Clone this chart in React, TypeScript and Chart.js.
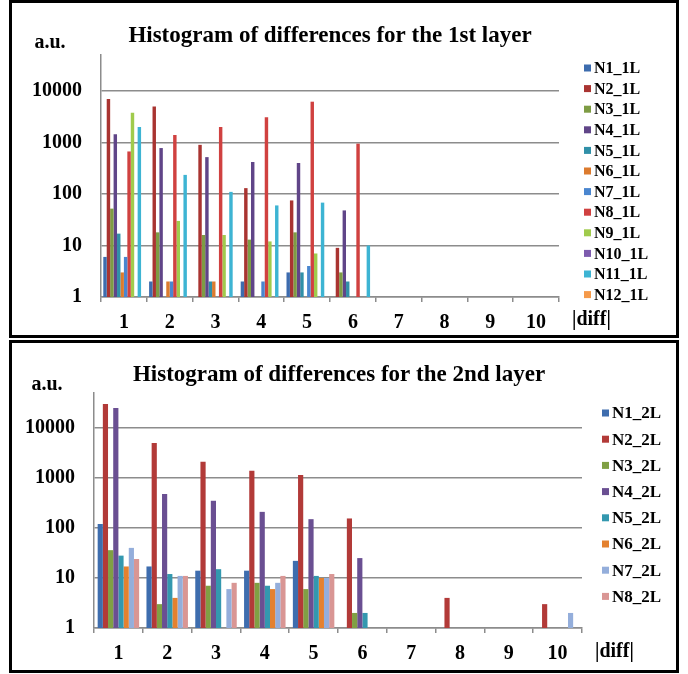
import React, { useEffect, useRef } from 'react';
import { Chart, registerables } from 'chart.js';

Chart.register(...registerables);

// ---------- data ----------
const categories = ['1', '2', '3', '4', '5', '6', '7', '8', '9', '10'];
const yTickValues = [1, 10, 100, 1000, 10000];

const title1 = 'Histogram of differences for the 1st layer';
const title2 = 'Histogram of differences for the 2nd layer';
const yUnit = 'a.u.';
const xUnit = '|diff|';

const names1 = ['N1_1L', 'N2_1L', 'N3_1L', 'N4_1L', 'N5_1L', 'N6_1L', 'N7_1L', 'N8_1L', 'N9_1L', 'N10_1L', 'N11_1L', 'N12_1L'];
const colors1 = ['#3D6CAE', '#A93431', '#7E9C44', '#604588', '#3090A8', '#DC7B2E', '#4A86CF', '#D04140', '#A0CB4C', '#7D5BAE', '#3DB4D3', '#F59A4A'];
const N1_1L = [6, 2, null, 2, 3, null, null, null, null, null];
const N2_1L = [7000, 5000, 900, 130, 75, 9, null, null, null, null];
const N3_1L = [52, 18, 16, 13, 18, 3, null, null, null, null];
const N4_1L = [1450, 780, 520, 420, 400, 48, null, null, null, null];
const N5_1L = [17, null, 2, null, 3, 2, null, null, null, null];
const N6_1L = [3, 2, 2, null, null, null, null, null, null, null];
const N7_1L = [6, 2, null, 2, 4, null, null, null, null, null];
const N8_1L = [670, 1400, 2000, 3100, 6200, 950, null, null, null, null];
const N9_1L = [3800, 30, 16, 12, 7, null, null, null, null, null];
const N10_1L = [null, null, null, null, null, null, null, null, null, null];
const N11_1L = [2000, 235, 110, 60, 68, 10, null, null, null, null];
const N12_1L = [null, null, null, null, null, null, null, null, null, null];
const values1 = [N1_1L, N2_1L, N3_1L, N4_1L, N5_1L, N6_1L, N7_1L, N8_1L, N9_1L, N10_1L, N11_1L, N12_1L];

const names2 = ['N1_2L', 'N2_2L', 'N3_2L', 'N4_2L', 'N5_2L', 'N6_2L', 'N7_2L', 'N8_2L'];
const colors2 = ['#3E6DAE', '#B23A38', '#80A044', '#6A4F92', '#3398AF', '#E4812F', '#94AEDB', '#D99694'];
const N1_2L = [120, 17, 14, 14, 22, null, null, null, null, null];
const N2_2L = [30000, 5000, 2100, 1400, 1150, 155, null, 4, null, 3];
const N3_2L = [36, 3, 7, 8, 6, 2, null, null, null, null];
const N4_2L = [25000, 480, 350, 210, 150, 25, null, null, null, null];
const N5_2L = [28, 12, 15, 7, 11, 2, null, null, null, null];
const N6_2L = [17, 4, null, 6, 10, null, null, null, null, null];
const N7_2L = [40, 11, 6, 8, 10, null, null, null, null, 2];
const N8_2L = [24, 11, 8, 11, 12, null, null, null, null, null];
const values2 = [N1_2L, N2_2L, N3_2L, N4_2L, N5_2L, N6_2L, N7_2L, N8_2L];

// ---------- styling ----------
const FONT = '"Liberation Serif", "Times New Roman", serif';
const GRAY = '#8c8c8c';

type PanelCfg = {
  left: number; top: number; width: number; height: number;
  title: string; titleX: number; titleY: number; titleSize: number;
  unitX: number; unitY: number;
  diffX: number; diffY: number;
  legendX: number; legendY: number; legendStep: number; legendSize: number;
  padTop: number; padRight: number; yAxisW: number; xAxisH: number;
  catPct: number;
  names: string[]; colors: string[]; values: (number | null)[][];
};

const overlayPlugin = (cfg: PanelCfg) => ({
  id: 'overlayText',
  afterDraw(chart: any) {
    const ctx = chart.ctx as CanvasRenderingContext2D;
    ctx.save();
    ctx.fillStyle = '#000';
    ctx.textBaseline = 'alphabetic';
    ctx.textAlign = 'center';
    ctx.font = `bold ${cfg.titleSize}px ${FONT}`;
    ctx.fillText(cfg.title, cfg.titleX, cfg.titleY);
    ctx.font = `bold 20px ${FONT}`;
    ctx.fillText(yUnit, cfg.unitX, cfg.unitY);
    ctx.textAlign = 'left';
    ctx.fillText(xUnit, cfg.diffX, cfg.diffY);
    ctx.font = `bold ${cfg.legendSize}px ${FONT}`;
    ctx.textBaseline = 'middle';
    chart.data.datasets.forEach((ds: any, i: number) => {
      const y = cfg.legendY + i * cfg.legendStep;
      ctx.fillStyle = ds.backgroundColor;
      ctx.fillRect(cfg.legendX, y - 3.5, 7, 7);
      ctx.fillStyle = '#000';
      ctx.fillText(ds.label, cfg.legendX + 10, y + 1);
    });
    ctx.restore();
  },
});

function Panel({ cfg }: { cfg: PanelCfg }) {
  const ref = useRef<HTMLCanvasElement>(null);
  const cw = cfg.width - 6;
  const ch = cfg.height - 6;
  useEffect(() => {
    if (!ref.current) return;
    const chart = new Chart(ref.current, {
      type: 'bar',
      data: {
        labels: categories,
        datasets: cfg.names.map((n, i) => ({
          label: n,
          data: cfg.values[i],
          backgroundColor: cfg.colors[i],
          borderWidth: 0,
          categoryPercentage: cfg.catPct,
          barPercentage: 1,
        })),
      },
      options: {
        responsive: false,
        animation: false,
        layout: { padding: { top: cfg.padTop, right: cfg.padRight, left: 0, bottom: 0 } },
        plugins: {
          legend: { display: false },
          title: { display: false },
          tooltip: { enabled: false },
        },
        scales: {
          x: {
            type: 'category',
            offset: true,
            grid: { offset: true, drawOnChartArea: false, drawTicks: true, tickLength: 5, color: GRAY, lineWidth: 1.5 },
            border: { color: GRAY, width: 1.5 },
            ticks: { color: '#000', font: { family: FONT, size: 20, weight: 'bold' }, padding: 9, maxRotation: 0, autoSkip: false },
            afterFit: (s: any) => { s.height = cfg.xAxisH; },
          },
          y: {
            type: 'logarithmic',
            min: 1,
            max: 50000,
            afterBuildTicks: (s: any) => { s.ticks = yTickValues.map((v) => ({ value: v })); },
            grid: { drawTicks: false, color: GRAY, lineWidth: 1.5 },
            border: { color: GRAY, width: 1.5 },
            ticks: {
              color: '#000',
              font: { family: FONT, size: 20, weight: 'bold' },
              padding: 19,
              callback: (v: any) => String(v),
            },
            afterFit: (s: any) => { s.width = cfg.yAxisW; },
          },
        },
      } as any,
      plugins: [overlayPlugin(cfg)],
    });
    return () => chart.destroy();
  }, [cfg]);
  return (
    <div
      style={{
        position: 'absolute', left: cfg.left, top: cfg.top, width: cfg.width, height: cfg.height,
        border: '3px solid #000', boxSizing: 'border-box', background: '#fff',
      }}
    >
      <canvas ref={ref} width={cw} height={ch} style={{ display: 'block', width: cw, height: ch }} />
    </div>
  );
}

const topCfg: PanelCfg = {
  left: 9, top: 0, width: 670, height: 338,
  title: title1, titleX: 318, titleY: 39, titleSize: 23,
  unitX: 38, unitY: 45,
  diffX: 560, diffY: 322,
  legendX: 572, legendY: 65, legendStep: 20.6, legendSize: 16,
  padTop: 52, padRight: 117, yAxisW: 89, xAxisH: 38,
  catPct: 0.9,
  names: names1, colors: colors1, values: values1,
};

const bottomCfg: PanelCfg = {
  left: 9, top: 340, width: 670, height: 333,
  title: title2, titleX: 327, titleY: 38, titleSize: 23,
  unitX: 35, unitY: 47,
  diffX: 583, diffY: 314,
  legendX: 590, legendY: 70, legendStep: 26.2, legendSize: 17,
  padTop: 50, padRight: 94, yAxisW: 82, xAxisH: 42,
  catPct: 0.85,
  names: names2, colors: colors2, values: values2,
};

export default function App() {
  return (
    <div style={{ position: 'absolute', left: 0, top: 0, width: 688, height: 674, background: '#fff' }}>
      <Panel cfg={topCfg} />
      <Panel cfg={bottomCfg} />
    </div>
  );
}
